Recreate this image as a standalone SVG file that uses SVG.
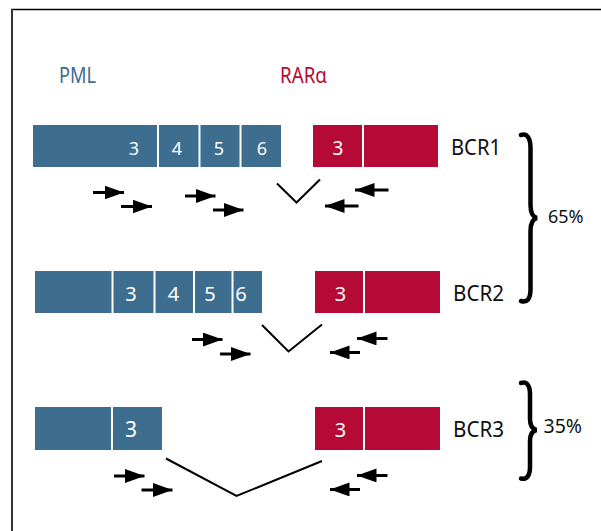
<svg xmlns="http://www.w3.org/2000/svg" width="601" height="531" viewBox="0 0 601 531">
  <defs>
    <style>
      .pml { fill: #3d6e8f; }
      .rar { fill: #b50a35; }
      .sep { stroke: #ffffff; stroke-width: 2; }
      .num { fill: #ffffff; font-family: "Noto Sans", "Open Sans", sans-serif; text-anchor: middle; }
      .lbl { fill: #111111; font-family: "Noto Sans", "Open Sans", sans-serif; }
      .head { font-family: "Noto Sans", "Open Sans", sans-serif; font-size: 21px; }
      .brk { fill: none; stroke: #000000; stroke-width: 2; }
      .arr { stroke: #000000; stroke-width: 3; }
      .brace { fill: none; stroke: #000000; stroke-width: 4.5; stroke-linecap: round; }
    </style>
    <marker id="tip" markerWidth="7" markerHeight="5" refX="6.5" refY="2.3" orient="auto" markerUnits="strokeWidth">
      <path d="M0,0 L6.5,2.3 L0,4.6 Z" fill="#000000"/>
    </marker>
  </defs>

  <rect width="601" height="531" fill="#ffffff"/>
  <!-- frame -->
  <line x1="11" y1="9.5" x2="601" y2="9.5" stroke="#000000" stroke-width="1.5"/>
  <line x1="12" y1="9" x2="12" y2="531" stroke="#333333" stroke-width="2"/>

  <!-- gene titles -->
  <text class="head" x="59" y="83" fill="#3d6e8f" textLength="37" lengthAdjust="spacingAndGlyphs">PML</text>
  <text class="head" x="280" y="83" fill="#b50a35" textLength="47" lengthAdjust="spacingAndGlyphs">RARα</text>

  <!-- BCR1 -->
  <g id="pml-bcr1">
    <rect class="pml" x="33" y="125" width="248" height="42"/>
    <line class="sep" x1="158" y1="125" x2="158" y2="167"/>
    <line class="sep" x1="199.5" y1="125" x2="199.5" y2="167"/>
    <line class="sep" x1="240.5" y1="125" x2="240.5" y2="167"/>
    <text class="num" x="134" y="155" font-size="18">3</text>
    <text class="num" x="177" y="155" font-size="18">4</text>
    <text class="num" x="219" y="155" font-size="18">5</text>
    <text class="num" x="262" y="155" font-size="18">6</text>
  </g>
  <g id="rar-bcr1">
    <rect class="rar" x="313" y="125" width="125" height="42"/>
    <line class="sep" x1="363" y1="125" x2="363" y2="167"/>
    <text class="num" x="338" y="155" font-size="19">3</text>
  </g>
  <text id="label-bcr1" class="lbl" x="451" y="155" font-size="22" textLength="50" lengthAdjust="spacingAndGlyphs">BCR1</text>

  <!-- BCR2 -->
  <g id="pml-bcr2">
    <rect class="pml" x="35" y="271" width="227" height="42"/>
    <line class="sep" x1="112.5" y1="271" x2="112.5" y2="313"/>
    <line class="sep" x1="154.5" y1="271" x2="154.5" y2="313"/>
    <line class="sep" x1="194" y1="271" x2="194" y2="313"/>
    <line class="sep" x1="232.5" y1="271" x2="232.5" y2="313"/>
    <text class="num" x="131" y="301" font-size="20">3</text>
    <text class="num" x="173.5" y="301" font-size="20">4</text>
    <text class="num" x="210" y="301" font-size="20">5</text>
    <text class="num" x="241" y="301" font-size="20">6</text>
  </g>
  <g id="rar-bcr2">
    <rect class="rar" x="315" y="271" width="125" height="42"/>
    <line class="sep" x1="364" y1="271" x2="364" y2="313"/>
    <text class="num" x="340.5" y="301" font-size="20">3</text>
  </g>
  <text id="label-bcr2" class="lbl" x="453" y="301" font-size="22" textLength="51" lengthAdjust="spacingAndGlyphs">BCR2</text>

  <!-- BCR3 -->
  <g id="pml-bcr3">
    <rect class="pml" x="35" y="407" width="127" height="43"/>
    <line class="sep" x1="112" y1="407" x2="112" y2="450"/>
    <text class="num" x="131" y="437" font-size="21">3</text>
  </g>
  <g id="rar-bcr3">
    <rect class="rar" x="315" y="407" width="125" height="43"/>
    <line class="sep" x1="364" y1="407" x2="364" y2="450"/>
    <text class="num" x="340.5" y="437" font-size="20">3</text>
  </g>
  <text id="label-bcr3" class="lbl" x="453" y="437" font-size="22" textLength="51" lengthAdjust="spacingAndGlyphs">BCR3</text>

  <!-- breakpoints, primers and braces -->
  <g id="connectors">
    <polyline class="brk" points="277,183.5 296.5,202.5 320,179.5"/>
    <polyline class="brk" points="262,325 288.5,351.5 322,324.5"/>
    <polyline class="brk" points="166,458.5 236.5,496 322,461"/>

    <line class="arr" x1="93" y1="192.5" x2="124" y2="192.5" marker-end="url(#tip)"/>
    <line class="arr" x1="121" y1="206.5" x2="152" y2="206.5" marker-end="url(#tip)"/>
    <line class="arr" x1="185" y1="196" x2="215.5" y2="196" marker-end="url(#tip)"/>
    <line class="arr" x1="213" y1="210" x2="243.5" y2="210" marker-end="url(#tip)"/>
    <line class="arr" x1="388.5" y1="190" x2="355" y2="190" marker-end="url(#tip)"/>
    <line class="arr" x1="358.5" y1="206" x2="325" y2="206" marker-end="url(#tip)"/>

    <line class="arr" x1="192" y1="339.5" x2="222.5" y2="339.5" marker-end="url(#tip)"/>
    <line class="arr" x1="220" y1="354" x2="250.5" y2="354" marker-end="url(#tip)"/>
    <line class="arr" x1="387.5" y1="338.5" x2="357" y2="338.5" marker-end="url(#tip)"/>
    <line class="arr" x1="360" y1="352.5" x2="330" y2="352.5" marker-end="url(#tip)"/>

    <line class="arr" x1="114" y1="476" x2="144.5" y2="476" marker-end="url(#tip)"/>
    <line class="arr" x1="141.5" y1="490" x2="172.5" y2="490" marker-end="url(#tip)"/>
    <line class="arr" x1="387.5" y1="475.5" x2="357" y2="475.5" marker-end="url(#tip)"/>
    <line class="arr" x1="360" y1="489.5" x2="330" y2="489.5" marker-end="url(#tip)"/>

    <path class="brace" d="M521,135 C527,133 530.5,138 530.5,148 L530.5,205 C530.5,213 532.5,217 537,218 C532.5,219 530.5,223 530.5,231 L530.5,289 C530.5,299 527,303 521,301"/>
    <path class="brace" d="M521,383 C527,381 530,386 530,394 L530,419 C530,426 532,429 536.5,430 C532,431 530,434 530,441 L530,467 C530,475 527,480 521,478.5"/>
  </g>

  <text class="lbl" x="548" y="223" font-size="18">65%</text>
  <text class="lbl" x="543.5" y="432.5" font-size="19.5">35%</text>
</svg>
